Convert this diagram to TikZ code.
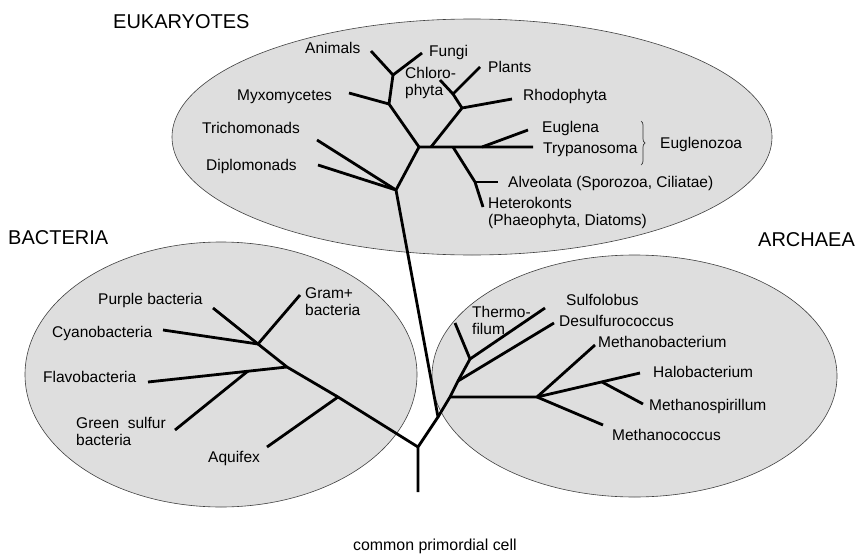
\documentclass[tikz,border=0pt]{standalone}
\usepackage{fontspec}
\setmainfont{Liberation Sans}
\usetikzlibrary{decorations.pathreplacing}
\begin{document}
\begin{tikzpicture}[x=1pt,y=-1pt,
  region/.style={draw=black!75, line width=0.6pt, fill=black!13},
  br/.style={line width=2.8pt},
  lbl/.style={font=\fontsize{15.5}{17}\selectfont, inner sep=0pt, anchor=base west},
  lbl2/.style={font=\fontsize{15.5}{17}\selectfont, inner sep=0pt, anchor=north west, align=left},
  ttl/.style={font=\fontsize{20}{22}\selectfont, inner sep=0pt, anchor=base west},
  bracestyle/.style={draw=black!80, line width=0.7pt, decorate, decoration={brace, amplitude=4pt}}]
\useasboundingbox (0,0) rectangle (859,554);

% regions
\path[region] (472,137) ellipse [x radius=300pt, y radius=118pt];
\path[region] (221,374.5) ellipse [x radius=196pt, y radius=132.5pt];
\path[region] (634.5,376) ellipse [x radius=202.5pt, y radius=121pt];

% titles
\node[ttl] (teuk) at (113,28) {EUKARYOTES};
\node[ttl] (tbac) at (8,244) {BACTERIA};
\node[ttl] (tarc) at (758,246) {ARCHAEA};
\node[lbl, font=\fontsize{15.9}{17}\selectfont] (tcell) at (353,550) {common primordial cell};

% tree coordinates
\coordinate (root) at (418,492);
\coordinate (R) at (418,447);
\coordinate (A0) at (438,417);
% eukaryotes
\coordinate (E1) at (396,190);
\coordinate (E2) at (419,147);
\coordinate (E3) at (389,104);
\coordinate (E4) at (393,75);
\coordinate (animalsE) at (371,51);
\coordinate (fungiE) at (422,53);
\coordinate (myxoE) at (349,93);
\coordinate (trichoE) at (317,140);
\coordinate (diploE) at (318,165);
\coordinate (Pb) at (431,147);
\coordinate (P) at (462,108);
\coordinate (P2) at (453,94);
\coordinate (plantsE) at (480,67);
\coordinate (chloroE) at (440,80);
\coordinate (rhodoE) at (512,99);
\coordinate (Hb) at (453,147);
\coordinate (Eb) at (482,147);
\coordinate (trypE) at (533,147);
\coordinate (euglE) at (528,130);
\coordinate (Hj) at (475,182);
\coordinate (alvE) at (498,182);
\coordinate (hetE) at (483,207);
% bacteria
\coordinate (B1) at (338,397);
\coordinate (B2) at (287,367);
\coordinate (B3) at (258,344);
\coordinate (purpleE) at (213,308);
\coordinate (gramE) at (300,295);
\coordinate (cyanoE) at (163,330);
\coordinate (flavoE) at (148,382);
\coordinate (G) at (248,371);
\coordinate (greenE) at (175,430);
\coordinate (aquiE) at (267,447);
% archaea
\coordinate (A1) at (450,397);
\coordinate (A2) at (458,381);
\coordinate (A3) at (470,359);
\coordinate (thermoE) at (455,323);
\coordinate (sulfoE) at (545,308);
\coordinate (desulfE) at (554,323);
\coordinate (M) at (537,397);
\coordinate (methbE) at (595,345);
\coordinate (H) at (602,382);
\coordinate (haloE) at (640,373);
\coordinate (spiriE) at (643,404);
\coordinate (coccE) at (603,425);

% trunk and eukaryote branches
\draw[br] (root) -- (R) -- (A0) -- (E1) -- (E2) -- (trypE);
\draw[br] (E1) -- (trichoE);
\draw[br] (E1) -- (diploE);
\draw[br] (E2) -- (E3) -- (E4) -- (animalsE);
\draw[br] (E4) -- (fungiE);
\draw[br] (E3) -- (myxoE);
\draw[br] (Pb) -- (P) -- (rhodoE);
\draw[br] (P) -- (P2) -- (plantsE);
\draw[br] (P2) -- (chloroE);
\draw[br] (Eb) -- (euglE);
\draw[br] (Hb) -- (Hj) -- (hetE);
\draw[br] (Hj) -- (alvE);

% bacteria branches
\draw[br] (R) -- (B1) -- (B2) -- (B3) -- (purpleE);
\draw[br] (B3) -- (gramE);
\draw[br] (B3) -- (cyanoE);
\draw[br] (B2) -- (flavoE);
\draw[br] (G) -- (greenE);
\draw[br] (B1) -- (aquiE);

% archaea branches
\draw[br] (A0) -- (A1) -- (A2) -- (A3) -- (sulfoE);
\draw[br] (A3) -- (thermoE);
\draw[br] (A2) -- (desulfE);
\draw[br] (A1) -- (M) -- (haloE);
\draw[br] (M) -- (methbE);
\draw[br] (M) -- (coccE);
\draw[br] (H) -- (spiriE);

% brace
\coordinate (braceT) at (641,121);
\coordinate (braceB) at (641,165);
\draw[bracestyle] (braceT) -- (braceB);

% eukaryote labels
\node[lbl] (lanimals) at (305,53.5) {Animals};
\node[lbl] (lfungi) at (429,56.5) {Fungi};
\node[lbl2] (lchloro) at (405,67.2) {Chloro-\\phyta};
\node[lbl] (lplants) at (488,72.5) {Plants};
\node[lbl] (lmyxo) at (237,100.5) {Myxomycetes};
\node[lbl] (lrhodo) at (523,100.5) {Rhodophyta};
\node[lbl] (ltricho) at (202,133.5) {Trichomonads};
\node[lbl] (ldiplo) at (206,170.5) {Diplomonads};
\node[lbl] (leugl) at (542,132.5) {Euglena};
\node[lbl] (ltryp) at (543,153.5) {Trypanosoma};
\node[lbl] (leuglz) at (660,148.5) {Euglenozoa};
\node[lbl] (lalv) at (508,187.5) {Alveolata (Sporozoa, Ciliatae)};
\node[lbl2] (lhet) at (488,197.2) {Heterokonts\\(Phaeophyta, Diatoms)};

% bacteria labels
\node[lbl] (lpurple) at (98,304.5) {Purple bacteria};
\node[lbl2] (lgram) at (305,287.2) {Gram+\\bacteria};
\node[lbl] (lcyano) at (52,337.5) {Cyanobacteria};
\node[lbl] (lflavo) at (43,382.5) {Flavobacteria};
\node[lbl2] (lgreen) at (76,417.2) {Green\ \ sulfur\\bacteria};
\node[lbl] (laqui) at (208,462.5) {Aquifex};

% archaea labels
\node[lbl2] (lthermo) at (472,306.2) {Thermo-\\filum};
\node[lbl] (lsulfo) at (566,305.5) {Sulfolobus};
\node[lbl] (ldesulf) at (559,326.5) {Desulfurococcus};
\node[lbl] (lmethb) at (598,347.5) {Methanobacterium};
\node[lbl] (lhalo) at (653,377.5) {Halobacterium};
\node[lbl] (lspiri) at (649,410.5) {Methanospirillum};
\node[lbl] (lcocc) at (612,440.5) {Methanococcus};
\end{tikzpicture}
\end{document}
